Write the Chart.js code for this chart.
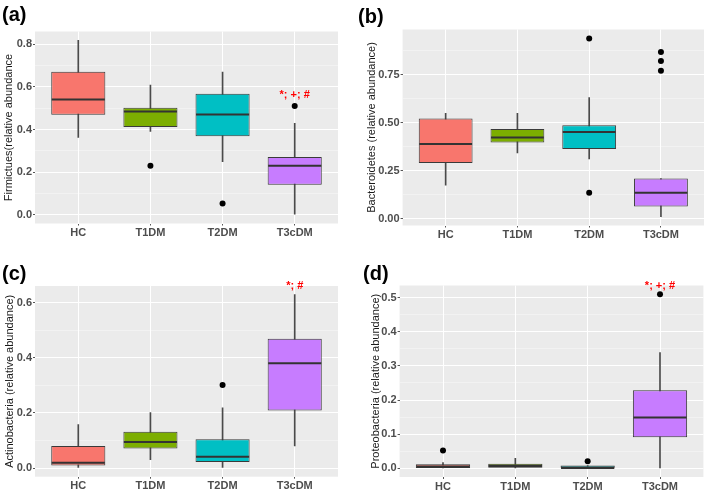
<!DOCTYPE html>
<html><head><meta charset="utf-8">
<script src="https://cdn.jsdelivr.net/npm/chart.js@4"></script>
<style>
html,body{margin:0;padding:0;background:#fff;}
body{width:708px;height:494px;position:relative;overflow:hidden;font-family:"Liberation Sans",Arial,sans-serif;}
.panel{position:absolute;width:354px;height:247px;}
.lbl{position:absolute;font-weight:bold;font-size:20px;line-height:20px;color:#000;font-family:"Liberation Sans",Arial,sans-serif;}
</style></head><body>
<div class="panel" style="left:0;top:0"><canvas id="ca" width="354" height="247"></canvas></div>
<div class="panel" style="left:354px;top:0"><canvas id="cb" width="354" height="247"></canvas></div>
<div class="panel" style="left:0;top:247px"><canvas id="cc" width="354" height="247"></canvas></div>
<div class="panel" style="left:354px;top:247px"><canvas id="cd" width="354" height="247"></canvas></div>
<div class="lbl" style="left:2px;top:4px">(a)</div>
<div class="lbl" style="left:358px;top:6px">(b)</div>
<div class="lbl" style="left:2px;top:263px">(c)</div>
<div class="lbl" style="left:363px;top:263px">(d)</div>
<script>
const categories = ['HC', 'T1DM', 'T2DM', 'T3cDM'];

// (a) Firmicutes
const firmLow  = [0.363, 0.391, 0.249, 0.000];
const firmQ1   = [0.469, 0.412, 0.369, 0.141];
const firmMed  = [0.541, 0.485, 0.470, 0.230];
const firmQ3   = [0.671, 0.502, 0.568, 0.271];
const firmHigh = [0.819, 0.609, 0.670, 0.429];
const firmOut  = [[], [0.230], [0.053], [0.510]];
const firmTicks = [0, 0.2, 0.4, 0.6, 0.8];
const firmTickLabels = ['0.0', '0.2', '0.4', '0.6', '0.8'];
const firmSig = ['', '', '', '*; +; #'];

// (b) Bacteroidetes
const bactLow  = [0.174, 0.342, 0.311, 0.010];
const bactQ1   = [0.290, 0.396, 0.363, 0.063];
const bactMed  = [0.389, 0.422, 0.451, 0.134];
const bactQ3   = [0.521, 0.467, 0.486, 0.208];
const bactHigh = [0.549, 0.549, 0.630, 0.208];
const bactOut  = [[], [], [0.939, 0.134], [0.868, 0.821, 0.771]];
const bactTicks = [0, 0.25, 0.5, 0.75];
const bactTickLabels = ['0.00', '0.25', '0.50', '0.75'];
const bactSig = ['', '', '', ''];

// (c) Actinobacteria
const actLow  = [0.000, 0.030, 0.000, 0.080];
const actQ1   = [0.009, 0.071, 0.022, 0.209];
const actMed  = [0.019, 0.094, 0.041, 0.380];
const actQ3   = [0.080, 0.132, 0.104, 0.469];
const actHigh = [0.158, 0.201, 0.218, 0.629];
const actOut  = [[], [], [0.301], []];
const actTicks = [0, 0.2, 0.4, 0.6];
const actTickLabels = ['0.0', '0.2', '0.4', '0.6'];
const actSig = ['', '', '', '*; #'];

// (d) Proteobacteria
const protLow  = [0.000, 0.000, 0.000, 0.000];
const protQ1   = [0.001, 0.000, 0.000, 0.091];
const protMed  = [0.005, 0.007, 0.001, 0.149];
const protQ3   = [0.012, 0.013, 0.008, 0.229];
const protHigh = [0.017, 0.029, 0.008, 0.339];
const protOut  = [[0.052], [], [0.0205], [0.510]];
const protTicks = [0, 0.1, 0.2, 0.3, 0.4, 0.5];
const protTickLabels = ['0.0', '0.1', '0.2', '0.3', '0.4', '0.5'];
const protSig = ['', '', '', '*; +; #'];

const groupColors = ['#F8766D', '#7CAE00', '#00BFC4', '#C77CFF'];
const tickFont = {family: '"Liberation Sans", Arial, sans-serif', size: 11, weight: 'bold'};
const titleFont = {family: '"Liberation Sans", Arial, sans-serif', size: 11};

const bgPlugin = {
  id: 'panelBg',
  beforeDraw(chart) {
    const a = chart.chartArea, c = chart.ctx;
    c.save(); c.fillStyle = '#EBEBEB';
    c.fillRect(a.left, a.top, a.right - a.left, a.bottom - a.top);
    c.restore();
  }
};

const medianPlugin = {
  id: 'medians',
  afterDatasetsDraw(chart) {
    const p = chart.options.plugins.medians;
    const meta = chart.getDatasetMeta(0);
    const xs = chart.scales.x, ys = chart.scales.y, c = chart.ctx;
    c.save();
    c.strokeStyle = '#333'; c.lineWidth = 2;
    p.med.forEach((m, i) => {
      const bar = meta.data[i];
      const x = xs.getPixelForValue(i + 1);
      const y = ys.getPixelForValue(m);
      c.beginPath(); c.moveTo(x - bar.width / 2 + 0.5, y); c.lineTo(x + bar.width / 2 - 0.5, y); c.stroke();
    });
    c.restore();
  }
};

const sigPlugin = {
  id: 'sig',
  afterDraw(chart) {
    const p = chart.options.plugins.sig;
    const xs = chart.scales.x, ys = chart.scales.y, c = chart.ctx;
    c.save();
    c.fillStyle = '#FF0000';
    c.font = 'bold 11px "Liberation Sans", Arial, sans-serif';
    c.textAlign = 'center'; c.textBaseline = 'middle';
    p.text.forEach((t, i) => {
      if (t) c.fillText(t, xs.getPixelForValue(i + 1), ys.getPixelForValue(p.y));
    });
    c.restore();
  }
};

function makePanel(id, p) {
  const xs = categories.map((c, i) => i + 1);
  const all = [...p.low, ...p.high, ...p.out.flat()];
  const dmin = Math.min(...all), dmax = Math.max(...all);
  const pad = (dmax - dmin) * 0.05;
  const ymin = dmin - pad, ymax = dmax + pad;
  const step = p.ticks[1] - p.ticks[0];
  const tickList = p.ticks.map((v, i) => ({value: v, isMajor: true, lab: p.tickLabels[i]}));
  p.ticks.forEach(t => { const m = t + step / 2; if (m <= ymax) tickList.push({value: m, isMajor: false, lab: ''}); });
  if (p.ticks[0] - step / 2 >= ymin) tickList.push({value: p.ticks[0] - step / 2, isMajor: false, lab: ''});
  tickList.sort((a, b) => a.value - b.value);

  const outPts = [];
  p.out.forEach((arr, i) => arr.forEach(v => outPts.push({x: i + 1, y: v})));

  new Chart(document.getElementById(id), {
    type: 'bar',
    data: {
      datasets: [
        {type: 'bar', data: xs.map((x, i) => ({x: x, y: [p.q1[i], p.q3[i]]})),
         backgroundColor: groupColors, borderColor: '#3a3a3a', borderWidth: 1, borderSkipped: false,
         grouped: false, barPercentage: 0.75, categoryPercentage: 1, order: 1},
        {type: 'bar', data: xs.map((x, i) => ({x: x, y: [p.low[i], p.high[i]]})),
         backgroundColor: '#4a4a4a', borderWidth: 0, grouped: false, barThickness: 1, order: 2},
        {type: 'scatter', data: outPts, pointRadius: 3, pointBackgroundColor: '#000',
         pointBorderWidth: 0, backgroundColor: '#000', order: 0}
      ]
    },
    options: {
      responsive: false, animation: false, devicePixelRatio: 1,
      layout: {padding: {left: 0, right: p.padR, top: p.padT, bottom: 0}},
      plugins: {legend: {display: false}, tooltip: {enabled: false},
        medians: {med: p.med}, sig: {text: p.sig, y: p.sigY}},
      scales: {
        x: {
          type: 'linear', min: 0.4, max: 4.6, offset: false,
          afterBuildTicks(axis) { axis.ticks = xs.map(v => ({value: v})); },
          afterFit(axis) { axis.height = p.xAxisH; },
          grid: {offset: false, color: '#FFFFFF', lineWidth: 1, drawTicks: true, tickLength: 2, tickColor: '#555', tickWidth: 1},
          border: {display: false},
          ticks: {autoSkip: false, maxRotation: 0, padding: 1, color: '#4D4D4D', font: tickFont,
            callback: v => categories[Math.round(v) - 1] || ''}
        },
        y: {
          type: 'linear', min: ymin, max: ymax, beginAtZero: false,
          afterBuildTicks(axis) { axis.ticks = tickList.map(t => ({value: t.value, isMajor: t.isMajor, lab: t.lab})); },
          afterFit(axis) { axis.width = p.yAxisW; },
          grid: {
            color: ctx => (ctx.tick && ctx.tick.isMajor) ? '#FFFFFF' : 'rgba(255,255,255,0.6)',
            lineWidth: ctx => (ctx.tick && ctx.tick.isMajor) ? 1 : 0.6,
            drawTicks: true, tickLength: 2, tickWidth: 1,
            tickColor: ctx => (ctx.tick && ctx.tick.isMajor) ? '#555' : 'rgba(0,0,0,0)'
          },
          border: {display: false},
          ticks: {autoSkip: false, padding: 1, color: '#4D4D4D', font: tickFont,
            callback: (v, i, ticks) => ticks[i].lab || ''},
          title: {display: true, text: p.title, color: '#1a1a1a', font: titleFont, padding: {top: p.titlePad, bottom: 0}}
        }
      }
    },
    plugins: [bgPlugin, medianPlugin, sigPlugin]
  });
}

makePanel('ca', {low: firmLow, q1: firmQ1, med: firmMed, q3: firmQ3, high: firmHigh, out: firmOut,
  ticks: firmTicks, tickLabels: firmTickLabels, sig: firmSig, sigY: 0.562,
  title: 'Firmictues(relative abundance', yAxisW: 35, padR: 16, padT: 31.5, xAxisH: 23.5, titlePad: 2.4});
makePanel('cb', {low: bactLow, q1: bactQ1, med: bactMed, q3: bactQ3, high: bactHigh, out: bactOut,
  ticks: bactTicks, tickLabels: bactTickLabels, sig: bactSig, sigY: 1,
  title: 'Bacteroidetes (relative abundance)', yAxisW: 48.6, padR: 1.2, padT: 29.5, xAxisH: 21.5, titlePad: 10.9});
makePanel('cc', {low: actLow, q1: actQ1, med: actMed, q3: actQ3, high: actHigh, out: actOut,
  ticks: actTicks, tickLabels: actTickLabels, sig: actSig, sigY: 0.659,
  title: 'Actinobacteria (relative abundance)', yAxisW: 35, padR: 16, padT: 39, xAxisH: 17.3, titlePad: 3.4});
makePanel('cd', {low: protLow, q1: protQ1, med: protMed, q3: protQ3, high: protHigh, out: protOut,
  ticks: protTicks, tickLabels: protTickLabels, sig: protSig, sigY: 0.535,
  title: 'Proteobacteria (relative abundance)', yAxisW: 45.6, padR: 4.6, padT: 38.5, xAxisH: 17, titlePad: 15.1});
</script>
</body></html>
